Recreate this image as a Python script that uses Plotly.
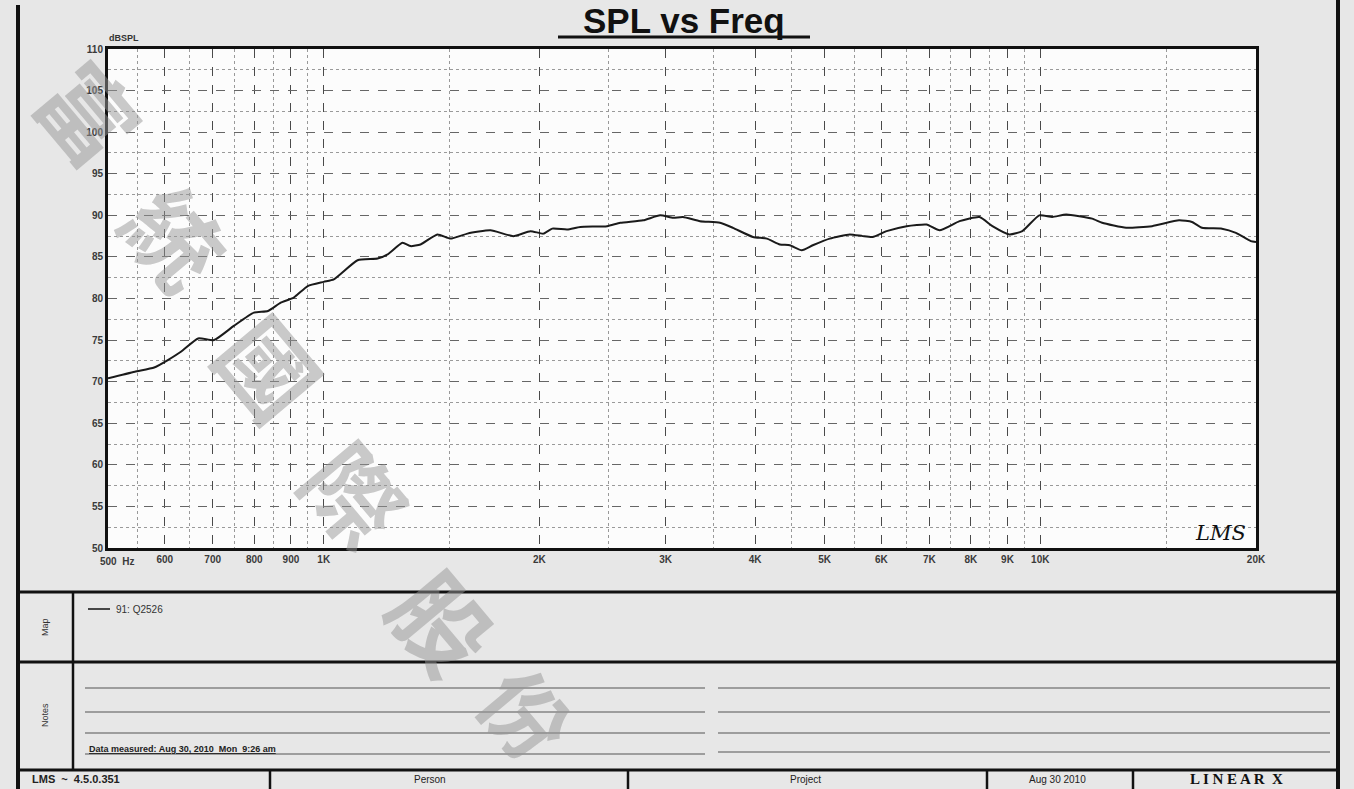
import plotly.graph_objects as go
import math

# ---- data ----
freq_hz = [500, 545, 580, 606, 632, 668, 703, 749, 799, 836,
           871, 908, 950, 1000, 1033, 1115, 1189, 1228, 1288, 1322,
           1365, 1441, 1503, 1587, 1709, 1839, 1943, 2025, 2084, 2187,
           2280, 2486, 2593, 2791, 2948, 3073, 3172, 3351, 3572, 3724,
           3972, 4153, 4331, 4472, 4647, 4814, 5083, 5420, 5651, 5834,
           6103, 6509, 6940, 7235, 7715, 8225, 8574, 9054, 9439, 9968,
           10392, 10869, 11814, 12199, 13178, 14322, 15617, 16281, 16811, 17928,
           18750, 19670, 20000]
spl_db = [70.4, 71.2, 71.7, 72.6, 73.6, 75.2, 75.0, 76.7, 78.3, 78.5,
          79.5, 80.1, 81.5, 82.0, 82.3, 84.6, 84.8, 85.3, 86.7, 86.3,
          86.5, 87.7, 87.2, 87.8, 88.2, 87.5, 88.1, 87.8, 88.4, 88.3,
          88.6, 88.7, 89.1, 89.4, 90.0, 89.7, 89.8, 89.3, 89.1, 88.5,
          87.4, 87.2, 86.5, 86.4, 85.8, 86.4, 87.2, 87.7, 87.5, 87.4,
          88.1, 88.7, 88.9, 88.2, 89.3, 89.8, 88.7, 87.7, 88.1, 90.0,
          89.8, 90.1, 89.6, 89.1, 88.5, 88.7, 89.4, 89.2, 88.5, 88.4,
          87.9, 86.9, 86.8]

x_tick_vals = [500, 600, 700, 800, 900, 1000, 2000, 3000, 4000, 5000,
               6000, 7000, 8000, 9000, 10000, 20000]
x_tick_text = ["", "600", "700", "800", "900", "1K", "2K", "3K", "4K", "5K",
               "6K", "7K", "8K", "9K", "10K", "20K"]
x_minor_vals = [550, 650, 750, 850, 950, 1500, 2500, 3500, 4500, 5500,
                6500, 7500, 8500, 9500, 15000]
y_tick_vals = list(range(50, 111, 5))
y_minor_vals = [52.5 + 5 * i for i in range(12)]
series_name = "91: Q2526"
watermark_chars = ["富", "統", "國", "際", "股", "份"]

W, H = 1354, 789
L, R, T, B = 108, 1256, 49, 548


def xp(px):
    return (px - L) / (R - L)


def yp(py):
    return (B - py) / (B - T)


fig = go.Figure()
fig.add_trace(go.Scatter(
    x=freq_hz, y=spl_db, mode="lines", name=series_name,
    line=dict(color="#1a1a1a", width=2, shape="spline", smoothing=0.5),
    showlegend=False, hoverinfo="x+y"))

tick_font = dict(family="Liberation Sans, Arial", size=10, color="#3a3a3a", weight="bold")

fig.update_layout(
    width=W, height=H, autosize=False,
    margin=dict(l=L, r=W - R, t=T, b=H - B),
    paper_bgcolor="#e7e7e7", plot_bgcolor="#fcfcfc",
    xaxis=dict(type="log", range=[math.log10(500), math.log10(20000)],
               tickmode="array", tickvals=x_tick_vals, ticktext=x_tick_text,
               tickfont=tick_font, ticks="", showline=True, linecolor="#111",
               linewidth=3, mirror=True, showgrid=True, gridcolor="#4a4a4a",
               gridwidth=1.4, griddash="dash", zeroline=False,
               minor=dict(tickmode="array", tickvals=x_minor_vals, showgrid=True,
                          gridcolor="#999", griddash="dot", gridwidth=1, ticks="")),
    yaxis=dict(range=[50, 110], tickmode="array", tickvals=y_tick_vals,
               tickfont=tick_font, ticks="", showline=True, linecolor="#111",
               linewidth=3, mirror=True, showgrid=True, gridcolor="#666",
               gridwidth=1.2, griddash="dash", zeroline=False,
               minor=dict(tickmode="array", tickvals=y_minor_vals, showgrid=True,
                          gridcolor="#9a9a9a", griddash="dot", gridwidth=1, ticks="")),
)

shapes = []


def hline(py, x0, x1, w=3, color="#111", dash="solid"):
    shapes.append(dict(type="line", xref="paper", yref="paper",
                       x0=xp(x0), x1=xp(x1), y0=yp(py), y1=yp(py),
                       line=dict(color=color, width=w, dash=dash)))


def vline(px, y0, y1, w=3, color="#111"):
    shapes.append(dict(type="line", xref="paper", yref="paper",
                       x0=xp(px), x1=xp(px), y0=yp(y0), y1=yp(y1),
                       line=dict(color=color, width=w)))


# outer frame
vline(18, 5, 789, w=4)
vline(1338, 0, 789, w=4)
hline(592, 18, 1338, w=3)
hline(662, 18, 1338, w=3)
hline(770, 18, 1338, w=3)
vline(73, 592, 770, w=2.5)
for px in [270, 628, 987, 1133]:
    vline(px, 770, 789, w=2.5)
# title underline
hline(37, 558, 810, w=3)
# legend sample line
hline(609, 88, 110, w=1.5)
# notes lines
for py in [688, 712, 733]:
    hline(py, 85, 705, w=1.2, color="#555")
    hline(py, 718, 1330, w=1.2, color="#555")
hline(754, 85, 705, w=1.2, color="#555")
hline(752, 718, 1330, w=1.2, color="#555")

fig.update_layout(shapes=shapes)

ann = []


def text(px, py, s, size=10, xanchor="center", yanchor="middle", angle=0,
         color="#222", family="Liberation Sans, Arial", bold=False, italic=False):
    ann.append(dict(xref="paper", yref="paper", x=xp(px), y=yp(py), text=s,
                    showarrow=False, xanchor=xanchor, yanchor=yanchor,
                    textangle=angle,
                    font=dict(size=size, color=color, family=family,
                              weight="bold" if bold else "normal",
                              style="italic" if italic else "normal")))


text(684, 20, "SPL vs Freq", size=35, bold=True, color="#111")
text(107, 38, "dBSPL", size=9, xanchor="left", bold=True, color="#333")
text(98, 561, "500  Hz", size=10, xanchor="left", bold=True, color="#3a3a3a")
text(1220, 533, "LMS", size=21, italic=True, color="#111",
     family="DejaVu Serif")
text(45, 627, "Map", size=9, angle=-90, color="#333")
text(45, 715, "Notes", size=9, angle=-90, color="#333")
text(114, 609, series_name, size=10, xanchor="left", color="#333")
text(87, 749, "<u>Data measured: Aug 30, 2010  Mon  9:26 am</u>", size=9,
     xanchor="left", bold=True, color="#222")
text(30, 779, "LMS  ~  4.5.0.351", size=11, xanchor="left", bold=True, color="#222")
text(430, 779, "Person", size=10, color="#222")
text(805, 779, "Project", size=10, color="#222")
text(1057, 779, "Aug 30 2010", size=10, color="#222")
text(1236, 779, "L I N E A R  X", size=15, bold=True, color="#111",
     family="Liberation Serif")

wm_pos = [(92, 110), (178, 235), (272, 365), (358, 492), (445, 620), (528, 712)]
wm_size = [95, 95, 95, 95, 95, 85]
for ch, (px, py), sz in zip(watermark_chars, wm_pos, wm_size):
    text(px, py, ch, size=sz, angle=50, color="rgba(150,150,150,0.5)",
         family="Noto Sans CJK TC", bold=True)

fig.update_layout(annotations=ann)

fig.write_html("out.html", config={"displayModeBar": False},
               post_script="document.body.style.margin='0px';"
                           "document.body.style.overflow='hidden';")
